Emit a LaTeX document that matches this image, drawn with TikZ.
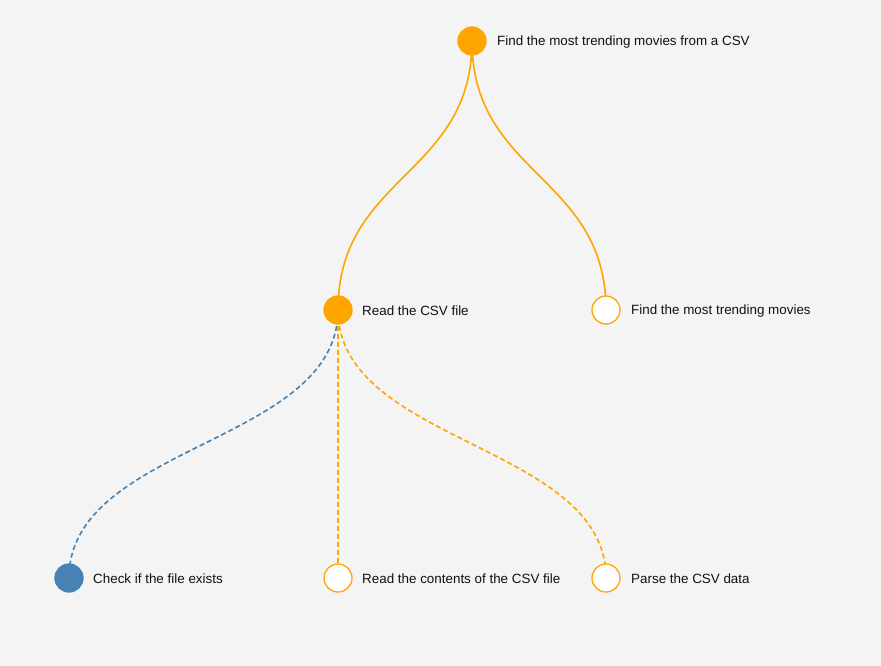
\documentclass[tikz,border=0pt]{standalone}
\usepackage{fontspec}
\setmainfont{Liberation Sans}
\definecolor{bg}{HTML}{F4F4F4}
\definecolor{orng}{HTML}{FFA500}
\definecolor{steel}{HTML}{4682B4}
\definecolor{txt}{HTML}{111111}
\begin{document}
\begin{tikzpicture}[x=1pt,y=-1pt,
  dot/.style={circle,minimum size=28pt,inner sep=0pt,line width=1.3pt},
  full/.style={dot,fill=orng,draw=orng},
  hollow/.style={dot,fill=white,draw=orng},
  blue/.style={dot,fill=steel,draw=steel},
  lbl/.style={anchor=west,inner sep=0pt,font=\fontsize{13.4}{15}\selectfont,text=txt,yshift=-0.8pt},
  link/.style={line width=1.6pt},
  dlink/.style={line width=1.6pt,dash pattern=on 5pt off 3pt}]
\fill[bg] (0,0) rectangle (881,666);
\useasboundingbox (0,0) rectangle (881,666);
% coordinates
\coordinate (c0) at (472,41);
\coordinate (c1) at (338,310);
\coordinate (c2) at (606,310);
\coordinate (c3) at (69,578);
\coordinate (c4) at (338,578);
\coordinate (c5) at (606,578);
% links
\draw[link,orng] (c0) .. controls (472,175.5) and (338,175.5) .. (c1);
\draw[link,orng] (c0) .. controls (472,175.5) and (606,175.5) .. (c2);
\draw[dlink,steel] (c1) .. controls (338,444) and (69,444) .. (c3);
\draw[dlink,orng] (c1) -- (c4);
\draw[dlink,orng] (c1) .. controls (338,444) and (606,444) .. (c5);
% nodes
\node[full] (n0) at (c0) {};
\node[full] (n1) at (c1) {};
\node[hollow] (n2) at (c2) {};
\node[blue] (n3) at (c3) {};
\node[hollow] (n4) at (c4) {};
\node[hollow] (n5) at (c5) {};
% labels
\node[lbl] (l0) at (497,41) {Find the most trending movies from a CSV};
\node[lbl] (l1) at (362,310) {Read the CSV file};
\node[lbl] (l2) at (631,310) {Find the most trending movies};
\node[lbl] (l3) at (93,578) {Check if the file exists};
\node[lbl] (l4) at (362,578) {Read the contents of the CSV file};
\node[lbl] (l5) at (631,578) {Parse the CSV data};
\end{tikzpicture}
\end{document}
